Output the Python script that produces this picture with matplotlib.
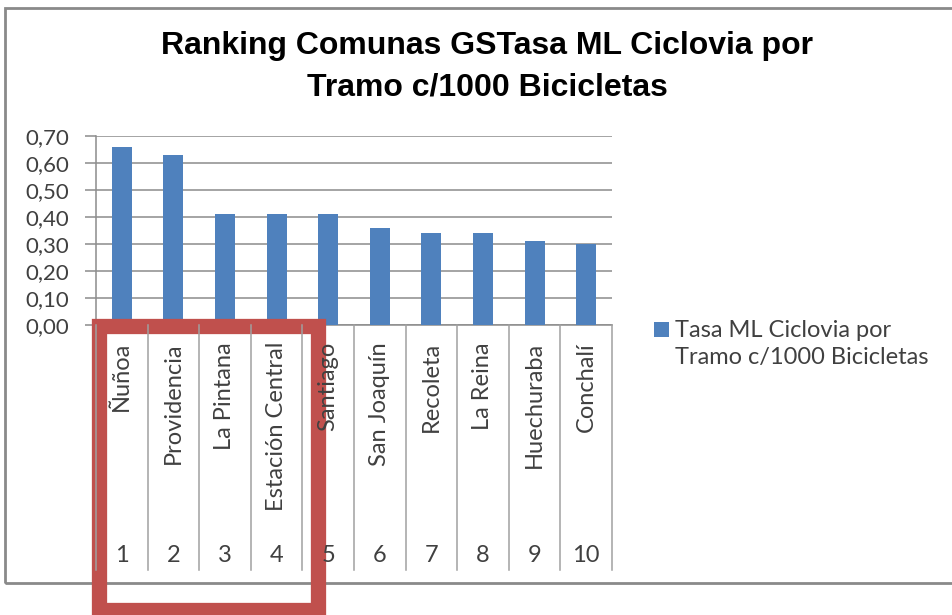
import matplotlib
matplotlib.use("Agg")
import matplotlib.pyplot as plt
import matplotlib.transforms as mtransforms
from matplotlib.patches import Rectangle
from matplotlib.lines import Line2D
import numpy as np

# data
comunas = ["Ñuñoa", "Providencia", "La Pintana", "Estación Central", "Santiago",
           "San Joaquín", "Recoleta", "La Reina", "Huechuraba", "Conchalí"]
ranking = ["1", "2", "3", "4", "5", "6", "7", "8", "9", "10"]
tasa = [0.66, 0.63, 0.41, 0.41, 0.41, 0.36, 0.34, 0.34, 0.31, 0.30]
yticks = [0.0, 0.1, 0.2, 0.3, 0.4, 0.5, 0.6, 0.7]
serie = "Tasa ML Ciclovia por\nTramo c/1000 Bicicletas"
titulo = "Ranking Comunas GSTasa ML Ciclovia por\nTramo c/1000 Bicicletas"

W, H = 953, 615
blue = "#4F81BD"
grid_c = "#8C8C8C"
txt_c = "#404040"
lab_font = ["Lato", "DejaVu Sans"]

fig = plt.figure(figsize=(W / 100, H / 100), dpi=100)
fig.patch.set_facecolor("white")

def fx(px):
    return px / W

def fy(py):
    return 1 - py / H

# outer chart border
fig.add_artist(Rectangle((fx(5), fy(583)), fx(960) - fx(5), fy(8) - fy(583),
                         transform=fig.transFigure, fill=False,
                         edgecolor="#8A8A8A", linewidth=2))

ax = fig.add_axes([fx(96), fy(325), fx(612) - fx(96), fy(136) - fy(325)])
x = np.arange(len(comunas))
ax.bar(x, tasa, width=0.39, color=blue, zorder=3)
ax.set_xlim(-0.5, len(comunas) - 0.5)
ax.set_ylim(0, 0.7)
ax.set_yticks(yticks)
ax.set_yticklabels([("%.2f" % v).replace(".", ",") for v in yticks],
                   fontsize=16, color=txt_c, family=lab_font)
ax.yaxis.grid(True, color=grid_c, linewidth=1.1, zorder=0)
ax.tick_params(axis="y", length=8, width=1.1, color=grid_c, pad=11)
ax.set_xticks([])
for s in ["top", "right"]:
    ax.spines[s].set_visible(False)
ax.spines["left"].set_color(grid_c)
ax.spines["bottom"].set_color(grid_c)
ax.spines["left"].set_linewidth(1.1)
ax.spines["bottom"].set_linewidth(1.1)

# two-level category axis
tr = mtransforms.blended_transform_factory(ax.transData, fig.transFigure)
for i in range(len(comunas) + 1):
    fig.add_artist(Line2D([i - 0.5, i - 0.5], [fy(325), fy(570)], transform=tr,
                          color="#A0A0A0", linewidth=1.1))
for i, (name, rk) in enumerate(zip(comunas, ranking)):
    fig.text(i, fy(342), name, transform=tr, rotation=90, ha="center", va="top",
             fontsize=17, color=txt_c, family=lab_font)
    fig.text(i, fy(555), rk, transform=tr, ha="center", va="center",
             fontsize=17, color=txt_c, family=lab_font)

# legend
fig.add_artist(Rectangle((fx(654), fy(337)), fx(15), fy(322) - fy(337),
                         transform=fig.transFigure, facecolor=blue, edgecolor="none"))
fig.text(fx(675), fy(320), serie, ha="left", va="top", fontsize=17,
         color=txt_c, family=lab_font, linespacing=1.37,
         transform=fig.transFigure)

fig.text(fx(487), fy(67), titulo, ha="center", va="center", fontsize=23,
         fontweight="bold", family=["Liberation Sans", "DejaVu Sans"],
         color="black", linespacing=1.5)

# red highlight box
fig.add_artist(Rectangle((fx(99), fy(610)), fx(318) - fx(99), fy(326) - fy(610),
                         transform=fig.transFigure, fill=False,
                         edgecolor="#C0504D", linewidth=11))

fig.savefig("out.png", dpi=100)
